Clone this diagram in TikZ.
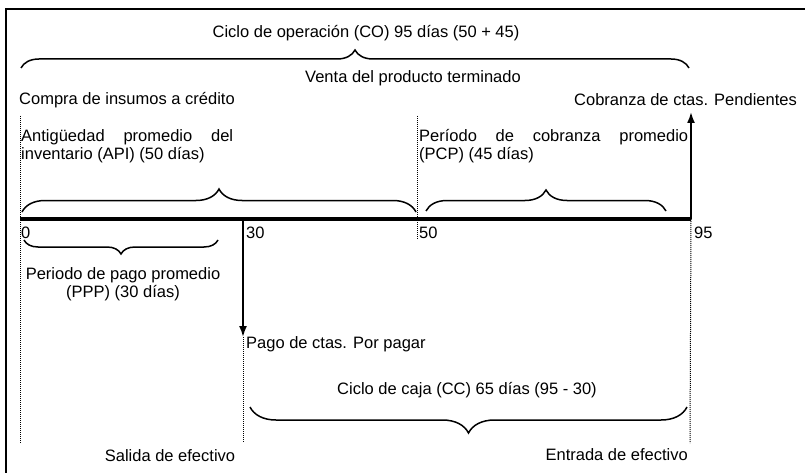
\documentclass[tikz,border=0pt]{standalone}
\usepackage{fontspec}
\setmainfont{Liberation Sans}
\usetikzlibrary{decorations.pathreplacing,arrows.meta}
\begin{document}
\begin{tikzpicture}[x=1pt,y=-1pt,
  lbl/.style={inner sep=0pt, font=\fontsize{16.5}{18}\selectfont},
  brc/.style={decorate, decoration={brace, amplitude=#1}, line width=1.5pt},
  dotln/.style={densely dotted, line width=1pt},
  arr/.style={line width=1.8pt, -{Latex[length=11pt,width=8pt]}},
]
\useasboundingbox (0,0) rectangle (805,473);
% frame (scan crop)
\coordinate (fr1) at (805,9);
\coordinate (fr2) at (6,9);
\coordinate (fr3) at (6,473);
\draw[line width=1.6pt] (fr1) -- (fr2) -- (fr3);

% timeline points
\coordinate (t0) at (20,219);
\coordinate (t30) at (243,219);
\coordinate (t50) at (417,219);
\coordinate (t95) at (691,219);

% texts
\node[lbl] (title) at (366,33) {Ciclo de operación (CO) 95 días (50 + 45)};
\node[lbl] (venta) at (413,78) {Venta del producto terminado};
\node[lbl,anchor=west] (compra) at (19,100) {Compra de insumos a crédito};
\node[lbl,anchor=east] (cobr) at (797,100) {Cobranza de ctas. Pendientes};
\node[lbl,anchor=west] (api1) at (21,137) {\makebox[212pt][s]{Antigüedad promedio del}};
\node[lbl,anchor=west] (api2) at (21,155) {inventario (API) (50 días)};
\node[lbl,anchor=west] (pcp1) at (419,137) {\makebox[269pt][s]{Período de cobranza promedio}};
\node[lbl,anchor=west] (pcp2) at (419,155) {(PCP) (45 días)};
\node[lbl,anchor=west] (n0) at (21,233) {0};
\node[lbl,anchor=west] (n30) at (246,233) {30};
\node[lbl,anchor=west] (n50) at (419,233) {50};
\node[lbl,anchor=west] (n95) at (694,233) {95};
\node[lbl] (ppp1) at (123,275) {Periodo de pago promedio};
\node[lbl] (ppp2) at (123,293) {(PPP) (30 días)};
\node[lbl,anchor=west] (pago) at (246,344) {Pago de ctas. Por pagar};
\node[lbl] (cc) at (467,390) {Ciclo de caja (CC) 65 días (95 - 30)};
\node[lbl] (salida) at (170,456) {Salida de efectivo};
\node[lbl,anchor=east] (entrada) at (688,455) {Entrada de efectivo};

% braces
\coordinate (bo1) at (21,68);  \coordinate (bo2) at (689,68);
\draw[brc=18pt] (bo1) -- (bo2);
\coordinate (ba1) at (22,212); \coordinate (ba2) at (416,212);
\draw[brc=23pt] (ba1) -- (ba2);
\coordinate (bp1) at (426,211); \coordinate (bp2) at (666,211);
\draw[brc=21pt] (bp1) -- (bp2);
\coordinate (bq1) at (24,240); \coordinate (bq2) at (218,240);
\draw[brc=14pt] (bq2) -- (bq1);
\coordinate (bc1) at (250,407); \coordinate (bc2) at (687,407);
\draw[brc=26pt] (bc2) -- (bc1);

% dotted guides
\coordinate (d0a) at (20,116);  \coordinate (d0b) at (20,443);
\coordinate (d50a) at (417,116); \coordinate (d50b) at (417,240);
\coordinate (d95b) at (690,443);
\coordinate (d30a) at (243,337); \coordinate (d30b) at (243,443);
\draw[dotln] (d0a) -- (d0b);
\draw[dotln] (d50a) -- (d50b);
\draw[dotln] (t95) -- (d95b);
\draw[dotln] (d30a) -- (d30b);

% timeline
\draw[line width=4pt] (t0) -- (t95);

% arrows
\coordinate (up) at (691,112);
\draw[arr] (t95) -- (up);
\draw[arr] (t30) -- (d30a);
\end{tikzpicture}
\end{document}
